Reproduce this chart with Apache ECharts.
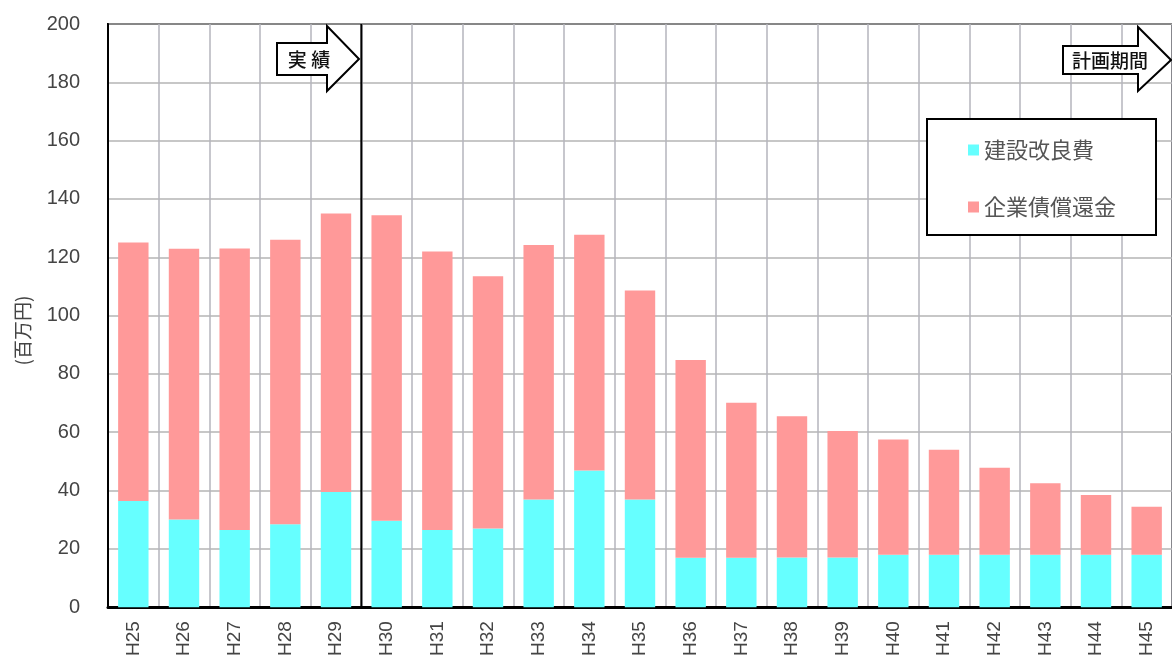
<!DOCTYPE html>
<html>
<head>
<meta charset="utf-8">
<script src="https://cdn.jsdelivr.net/npm/echarts@6/dist/echarts.min.js"></script>
<style>
    html, body {margin: 0; padding: 0; background: #fff;}
    #chart1 {width: 1172px; height: 659px;}
</style>
</head>
<body>
<div id="chart1"></div>
<script>
var years = ['H25', 'H26', 'H27', 'H28', 'H29', 'H30', 'H31', 'H32', 'H33', 'H34', 'H35',
    'H36', 'H37', 'H38', 'H39', 'H40', 'H41', 'H42', 'H43', 'H44', 'H45'];
// 建設改良費
var kensetsu = [36.4, 30.1, 26.5, 28.4, 39.5, 29.6, 26.5, 27.0, 36.9, 46.9, 36.9,
    16.9, 16.9, 17.0, 17.0, 18.0, 18.0, 18.0, 18.0, 18.0, 18.0];
// 企業債償還金
var shokan = [88.7, 92.8, 96.5, 97.6, 95.5, 104.8, 95.5, 86.5, 87.3, 80.8, 71.7,
    67.9, 53.2, 48.5, 43.4, 39.5, 36.0, 29.8, 24.5, 20.5, 16.4];
var yTicks = [0, 20, 40, 60, 80, 100, 120, 140, 160, 180, 200];
var firstPlanYear = 'H30';

var numFont = '"Liberation Sans", Arial, sans-serif';
var jpFont = '"Noto Sans CJK JP", sans-serif';

var chart = echarts.init(document.getElementById('chart1'));

// 実績 / 計画期間 の境界 (カテゴリの間)
var splitPos = years.indexOf(firstPlanYear) - 0.5;

var arrow = function (x0, x1, x2, top, bottom, headTop, headBottom, label, size, textX) {
    var mid = (top + bottom) / 2;
    return [
        {
            type: 'polygon',
            z: 100,
            shape: {points: [[x0, top], [x1, top], [x1, headTop], [x2, mid], [x1, headBottom], [x1, bottom], [x0, bottom]]},
            style: {fill: '#fff', stroke: '#000', lineWidth: 2}
        },
        {
            type: 'text',
            z: 101,
            x: textX,
            y: mid + 1,
            style: {text: label, font: '500 ' + size + 'px ' + jpFont, fill: '#111', align: 'center', verticalAlign: 'middle'}
        }
    ];
};

var option = {
    animation: false,
    grid: {
        left: 108,
        top: 24,
        width: 1071,
        height: 584,
        show: true,
        borderColor: '#000',
        borderWidth: 2,
        backgroundColor: 'transparent'
    },
    legend: {
        orient: 'vertical',
        left: 927,
        top: 119,
        padding: [20, 40, 17, 41],
        itemGap: 35,
        itemWidth: 11,
        itemHeight: 11,
        icon: 'rect',
        backgroundColor: '#fff',
        borderColor: '#000',
        borderWidth: 2,
        textStyle: {fontFamily: jpFont, fontSize: 22, color: '#555'},
        data: ['建設改良費', '企業債償還金']
    },
    xAxis: [
        {
            type: 'category',
            data: years,
            axisLine: {lineStyle: {color: '#000', width: 3}},
            axisTick: {show: false},
            axisLabel: {rotate: 90, margin: 14, fontFamily: numFont, fontSize: 19, color: '#444'},
            splitLine: {show: true, lineStyle: {color: '#b4b4bc', width: 1.5}}
        },
        {
            type: 'value',
            min: -0.5,
            max: years.length - 0.5,
            show: false
        }
    ],
    yAxis: {
        type: 'value',
        min: yTicks[0],
        max: yTicks[yTicks.length - 1],
        interval: yTicks[1] - yTicks[0],
        name: '(百万円)',
        nameLocation: 'middle',
        nameGap: 76,
        nameTextStyle: {fontFamily: jpFont, fontSize: 19, color: '#444', padding: [0, 30, 0, 0]},
        axisLine: {show: true, onZero: false, lineStyle: {color: '#000', width: 2}},
        axisTick: {show: false},
        axisLabel: {margin: 28, fontFamily: numFont, fontSize: 20, color: '#444'},
        splitLine: {lineStyle: {color: '#b4b4b4', width: 1.5}}
    },
    series: [
        {
            name: '建設改良費',
            type: 'bar',
            stack: 'total',
            barWidth: '60%',
            itemStyle: {color: '#66ffff'},
            data: kensetsu
        },
        {
            name: '企業債償還金',
            type: 'bar',
            stack: 'total',
            barWidth: '60%',
            itemStyle: {color: '#ff9999'},
            data: shokan
        },
        {
            name: 'split',
            type: 'line',
            xAxisIndex: 1,
            symbol: 'none',
            silent: true,
            z: 5,
            lineStyle: {color: '#000', width: 2},
            data: [[splitPos, yTicks[0]], [splitPos, yTicks[yTicks.length - 1]]]
        }
    ],
    graphic: arrow(277, 327, 359, 43, 75, 26, 91, '実 績', 19, 309)
        .concat(arrow(1063, 1138, 1171, 46, 74, 27, 91, '計画期間', 19, 1110))
};

chart.setOption(option);
</script>
</body>
</html>
